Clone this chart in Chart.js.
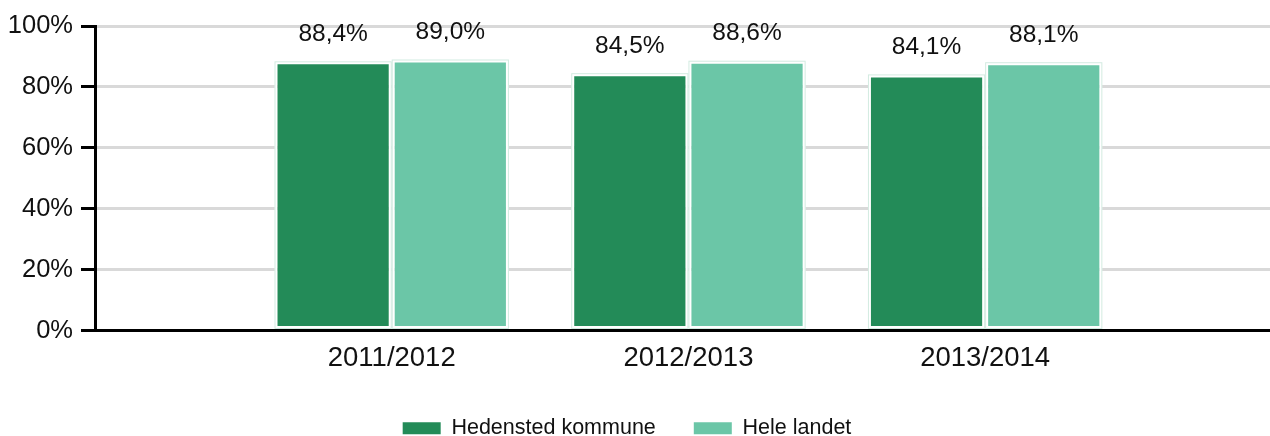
<!DOCTYPE html>
<html lang="da">
<head>
  <meta charset="UTF-8">
  <title>Hedensted kommune vs. hele landet</title>
  <script src="https://cdn.jsdelivr.net/npm/chart.js"></script>
  <style>
    body {
      margin: 0;
      background: #ffffff;
      overflow: hidden;
    }
    #wrap {
      width: 1270px;
      height: 436px;
    }
  </style>
</head>
<body>
  <div id="wrap"><canvas id="chart" width="1270" height="436"></canvas></div>
  <script>
    // data
    const seasons = ['2011/2012', '2012/2013', '2013/2014'];
    const seriesNames = ['Hedensted kommune', 'Hele landet'];
    const hedensted = [88.4, 84.5, 84.1];
    const heleLandet = [89.0, 88.6, 88.1];
    const yTickValues = [0, 20, 40, 60, 80, 100];

    const FONT = "'Liberation Sans', Arial, sans-serif";

    function toPoints(values) {
      return seasons.map((s, i) => ({ x: i + 1, y: values[i] }));
    }

    function pct(v) {
      return v.toFixed(1).replace('.', ',') + '%';
    }

    // faint outline round each bar + value label above it
    const barLabels = {
      id: 'barLabels',
      afterDatasetsDraw(chart) {
        const ctx = chart.ctx;
        ctx.save();
        chart.data.datasets.forEach((ds, di) => {
          const meta = chart.getDatasetMeta(di);
          meta.data.forEach((bar, i) => {
            const p = bar.getProps(['x', 'y', 'base', 'width'], true);
            ctx.strokeStyle = '#d3ebe1';
            ctx.lineWidth = 1;
            ctx.strokeRect(p.x - p.width / 2 + 0.5, p.y + 0.5, p.width - 1, p.base - p.y - 1);
            ctx.fillStyle = '#111';
            ctx.font = '24.5px ' + FONT;
            ctx.textAlign = 'center';
            ctx.textBaseline = 'middle';
            ctx.fillText(pct(ds.data[i].y), p.x, p.y - 27);
          });
        });
        ctx.restore();
      }
    };

    // nudge the legend a little left, like the original
    const legendShift = {
      id: 'legendShift',
      beforeDraw(chart) {
        if (chart.legend && !chart.legend._shifted) {
          chart.legend.left -= 8;
          chart.legend.right -= 8;
          chart.legend._shifted = true;
        }
      }
    };

    new Chart(document.getElementById('chart'), {
      type: 'bar',
      data: {
        datasets: [
          {
            label: seriesNames[0],
            data: toPoints(hedensted),
            backgroundColor: '#238b58',
            borderColor: '#ffffff',
            borderWidth: 3,
            borderSkipped: false
          },
          {
            label: seriesNames[1],
            data: toPoints(heleLandet),
            backgroundColor: '#6bc6a7',
            borderColor: '#ffffff',
            borderWidth: 3,
            borderSkipped: false
          }
        ]
      },
      options: {
        responsive: false,
        animation: false,
        events: [],
        categoryPercentage: 0.79,
        barPercentage: 1,
        layout: {
          padding: { top: 26, right: 0, left: 0, bottom: -13 }
        },
        scales: {
          x: {
            type: 'linear',
            offset: false,
            min: 0,
            max: 3.96,
            afterBuildTicks: s => { s.ticks = seasons.map((_, i) => ({ value: i + 1 })); },
            afterFit: s => { s.height = 49; },
            grid: { display: false, drawTicks: false, offset: false },
            border: { display: true, color: '#000', width: 3 },
            ticks: {
              padding: 11,
              color: '#111',
              font: { family: FONT, size: 27.5 },
              maxRotation: 0,
              autoSkip: false,
              callback: v => seasons[v - 1] || ''
            }
          },
          y: {
            min: 0,
            max: 100,
            afterBuildTicks: s => { s.ticks = yTickValues.map(v => ({ value: v })); },
            afterFit: s => { s.width = 95; },
            grid: {
              color: '#d9d9d9',
              lineWidth: 3,
              tickColor: '#000',
              tickWidth: 3,
              tickLength: 14
            },
            border: { display: true, color: '#000', width: 3 },
            ticks: {
              padding: 8,
              color: '#111',
              font: { family: FONT, size: 25.5 },
              callback: v => v + '%'
            }
          }
        },
        plugins: {
          legend: {
            position: 'bottom',
            labels: {
              boxWidth: 38,
              boxHeight: 12,
              padding: 38,
              color: '#111',
              font: { family: FONT, size: 21.5 },
              generateLabels(chart) {
                const items = Chart.defaults.plugins.legend.labels.generateLabels(chart);
                items.forEach(it => { it.lineWidth = 0; });
                return items;
              }
            }
          },
          tooltip: { enabled: false }
        }
      },
      plugins: [barLabels, legendShift]
    });
  </script>
</body>
</html>
